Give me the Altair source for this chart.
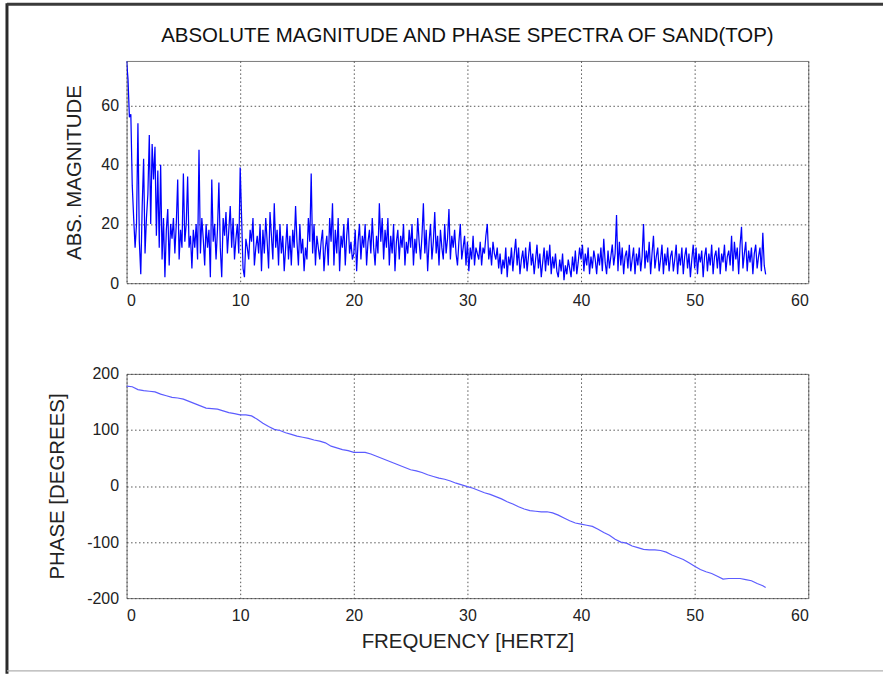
import altair as alt
import pandas as pd

# ---------------- data ----------------
MAG_STEP_HZ = 0.125  # frequency spacing of the magnitude samples

magnitude = [
    75, 69, 56, 57, 33, 22, 12, 20,
    54, 14, 3, 26, 42, 10, 22, 30,
    50, 20, 47, 35, 46, 16, 38, 12,
    40, 8, 22, 2, 18, 25, 6, 20,
    15, 22, 10, 20, 35, 8, 18, 12,
    37, 14, 20, 36, 12, 16, 5, 18,
    12, 20, 8, 45, 10, 22, 15, 6,
    20, 12, 18, 2, 35, 14, 20, 8,
    18, 34, 12, 2, 22, 16, 24, 10,
    18, 26, 12, 22, 8, 15, 20, 10,
    39, 22, 5, 2, 15, 12, 8, 18,
    14, 22, 6, 12, 16, 10, 20, 4,
    18, 10, 22, 14, 5, 24, 16, 8,
    27, 12, 18, 6, 20, 10, 16, 4,
    12, 20, 8, 16, 6, 18, 12, 26,
    14, 6, 20, 10, 15, 4, 12, 8,
    22, 14, 37, 10, 20, 6, 16, 12,
    8, 14, 18, 4, 12, 16, 6, 22,
    14, 27, 6, 18, 10, 22, 4, 16,
    12, 20, 6, 16, 22, 10, 14, 8,
    10, 18, 4, 14, 20, 8, 16, 12,
    20, 6, 14, 18, 10, 22, 12, 6,
    16, 10, 27, 14, 22, 8, 18, 12,
    22, 6, 16, 10, 20, 4, 14, 18,
    8, 16, 12, 20, 6, 14, 10, 18,
    12, 20, 6, 15, 10, 22, 14, 8,
    16, 27, 10, 18, 4, 14, 20, 8,
    14, 24, 10, 16, 6, 18, 12, 8,
    20, 10, 15, 25, 8, 16, 12, 18,
    10, 6, 14, 20, 8, 12, 16, 6,
    14, 4, 12, 8, 16, 6, 12, 10,
    8, 14, 6, 12, 10, 16, 20, 8,
    12, 6, 14, 10, 8, 12, 5, 10,
    3, 8, 5, 12, 2, 9, 6, 12,
    4, 10, 15, 6, 12, 3, 8, 11,
    5, 12, 4, 9, 14, 6, 10, 3,
    8, 13, 5, 10, 2, 7, 12, 4,
    11, 6, 13, 3, 9, 5, 10, 4,
    2, 8, 4, 10, 1, 6, 3, 8,
    5, 2, 9, 4, 11, 3, 7, 12,
    8, 13, 4, 10, 6, 12, 3, 9,
    5, 11, 8, 3, 10, 6, 12, 4,
    15, 7, 3, 11, 5, 9, 13, 6,
    10, 23, 4, 14, 6, 12, 3, 9,
    11, 5, 13, 4, 8, 12, 3, 10,
    6, 12, 4, 9, 20, 5, 11, 7,
    14, 3, 10, 16, 5, 9, 12, 4,
    8, 13, 3, 10, 6, 12, 4, 9,
    11, 4, 8, 13, 3, 10, 6, 12,
    3, 9, 12, 5, 10, 2, 8, 13,
    5, 12, 3, 10, 7, 11, 2, 9,
    12, 4, 10, 6, 13, 3, 9, 11,
    5, 12, 3, 10, 7, 13, 4, 9,
    11, 6, 16, 4, 14, 8, 12, 3,
    13, 19, 5, 10, 14, 4, 11, 7,
    12, 3, 10, 13, 5, 9, 12, 4,
    17, 6, 3,
]

phase_freq = [
    0, 0.5, 1, 1.5, 2, 2.5, 3, 3.5, 4, 4.5, 5, 5.5, 6, 6.5, 7, 7.5, 8, 8.5, 9, 9.5,
    10, 10.5, 11, 11.5, 12, 12.5, 13, 13.5, 14, 14.5, 15, 15.5, 16, 16.5, 17, 17.5,
    18, 18.5, 19, 19.5, 20, 20.5, 21, 21.5, 22, 22.5, 23, 23.5, 24, 24.5, 25, 25.5,
    26, 26.5, 27, 27.5, 28, 28.5, 29, 29.5, 30, 30.5, 31, 31.5, 32, 32.5, 33, 33.5,
    34, 34.5, 35, 35.5, 36, 36.5, 37, 37.5, 38, 38.5, 39, 39.5, 40, 40.5, 41, 41.5,
    42, 42.5, 43, 43.5, 44, 44.5, 45, 45.5, 46, 46.5, 47, 47.5, 48, 48.5, 49, 49.5,
    50, 50.5, 51, 51.5, 52, 52.5, 53, 53.5, 54, 54.5, 55, 55.5, 56, 56.25,
]
phase_deg = [
    178, 177, 172, 170, 169, 168, 164, 161, 158, 157, 155, 151, 147, 143, 139, 138,
    137, 134, 131, 129, 127, 127, 125, 119, 112, 106, 101, 99, 95, 92, 89, 87,
    85, 82, 80, 77, 71, 68, 65, 63, 60, 60, 60, 57, 53, 49, 45, 41,
    37, 33, 29, 27, 24, 20, 17, 14, 12, 9, 5, 2, -1, -4, -8, -12,
    -15, -19, -23, -28, -32, -37, -41, -44, -45, -46, -46, -48, -52, -57, -62, -66,
    -68, -70, -72, -77, -83, -88, -95, -100, -102, -107, -110, -113, -114, -114, -115, -118,
    -123, -127, -131, -137, -143, -149, -153, -156, -161, -166, -165, -165, -165, -167, -169, -174,
    -178, -181,
]

x_ticks = [0, 10, 20, 30, 40, 50, 60]
mag_ticks = [0, 20, 40, 60]
phase_ticks = [-200, -100, 0, 100, 200]

TITLE = "ABSOLUTE MAGNITUDE AND PHASE SPECTRA OF SAND(TOP)"

# ---------------- tables ----------------
mag_df = pd.DataFrame({
    "freq": [i * MAG_STEP_HZ for i in range(len(magnitude))],
    "mag": magnitude,
})
phase_df = pd.DataFrame({"freq": phase_freq, "phase": phase_deg})
title_df = pd.DataFrame({"text": [TITLE]})
one_row = pd.DataFrame({"k": [0]})

FONT = "Liberation Sans"
LABEL_SIZE = 16
TITLE_SIZE = 20.5
PLAIN_LABEL = "'' + datum.value"   # ASCII hyphen for negative numbers

def x_axis(title=None):
    kw = dict(values=x_ticks, grid=True, ticks=False, labelPadding=9,
              labelFontSize=LABEL_SIZE, domain=False)
    if title:
        kw.update(title=title, titleFontSize=TITLE_SIZE, titleFontWeight="normal",
                  titlePadding=9)
    else:
        kw.update(title=None)
    return alt.Axis(**kw)

x_scale = alt.Scale(domain=[0, 60], nice=False)

mag_line = alt.Chart(mag_df).mark_line(color="#0000ff", strokeWidth=1.25, clip=True).encode(
    x=alt.X("freq:Q", scale=x_scale, axis=x_axis()),
    y=alt.Y("mag:Q", scale=alt.Scale(domain=[0, 75], nice=False),
            axis=alt.Axis(values=mag_ticks, grid=True, ticks=False, labelPadding=8,
                          labelFontSize=LABEL_SIZE, domain=False, title="ABS. MAGNITUDE",
                          titleFontSize=TITLE_SIZE, titleFontWeight="normal",
                          titlePadding=16)),
)

# chart title, centred over the plot area
title_text = alt.Chart(title_df).mark_text(
    font=FONT, fontSize=TITLE_SIZE, color="#111", align="center", baseline="bottom",
).encode(text="text:N", x=alt.value(342), y=alt.value(-15))

# dark frame of the original picture (left and top edges)
frame_left = alt.Chart(one_row).mark_rule(color="#2a2a2a", strokeWidth=3).encode(
    x=alt.value(-120), y=alt.value(-58), y2=alt.value(615))
frame_top = alt.Chart(one_row).mark_rule(color="#3a3a3a", strokeWidth=3).encode(
    x=alt.value(-120), x2=alt.value(759), y=alt.value(-57))

top = alt.layer(mag_line, title_text, frame_left, frame_top).properties(
    width=684, height=223,
)

phase_line = alt.Chart(phase_df).mark_line(color="#5c5cff", strokeWidth=1.2).encode(
    x=alt.X("freq:Q", scale=x_scale, axis=x_axis("FREQUENCY [HERTZ]")),
    y=alt.Y("phase:Q", scale=alt.Scale(domain=[-200, 200], nice=False),
            axis=alt.Axis(values=phase_ticks, grid=True, ticks=False, labelPadding=8,
                          labelFontSize=LABEL_SIZE, domain=False, title="PHASE [DEGREES]",
                          titleFontSize=TITLE_SIZE, titleFontWeight="normal",
                          titlePadding=19, labelExpr=PLAIN_LABEL)),
)
frame_bottom = alt.Chart(one_row).mark_rule(color="#b0b0b0", strokeWidth=1.5).encode(
    x=alt.value(-120), x2=alt.value(759), y=alt.value(298))

bottom = alt.layer(phase_line, frame_bottom).properties(width=684, height=225)

chart = alt.vconcat(top, bottom, spacing=91, bounds="flush").properties(
    padding={"left": 5, "top": 0, "right": 0, "bottom": 0},
    background="white",
).configure_view(
    stroke="#7a7a7a", strokeWidth=1,
).configure_axis(
    gridColor="#444", gridDash=[1.5, 2.5], gridOpacity=0.9, gridWidth=1,
    labelFont=FONT, titleFont=FONT, labelColor="#222", titleColor="#222",
)

chart.save("out.html", embed_options={"renderer": "svg", "actions": False})
